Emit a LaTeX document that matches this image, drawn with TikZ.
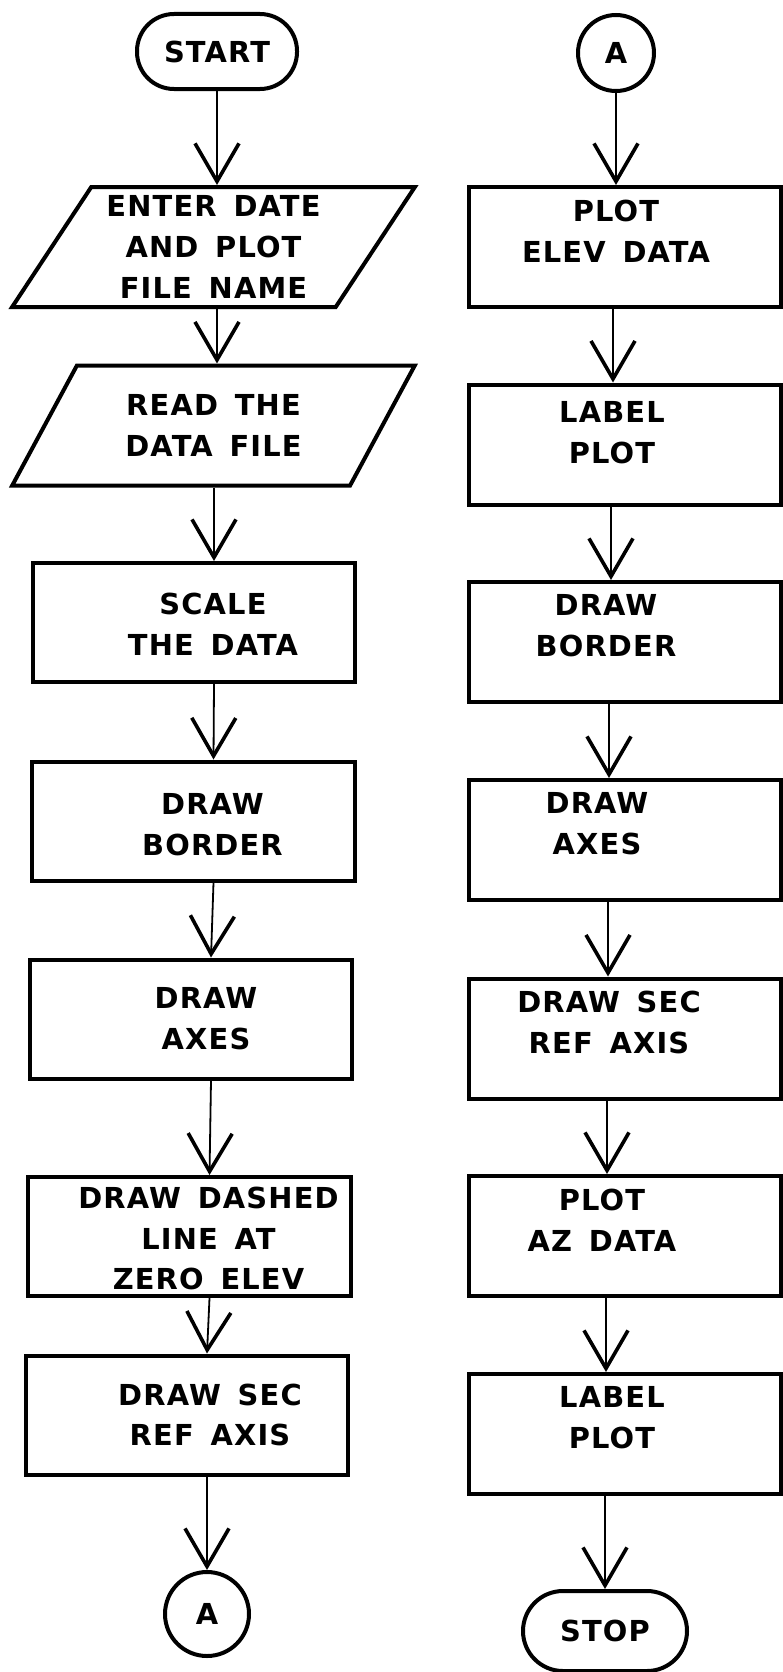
\documentclass[tikz,border=0pt]{standalone}
\usepackage{fontspec}
\usetikzlibrary{shapes.geometric, arrows.meta}
\newfontfamily\plotfont[WordSpace=1.5, LetterSpace=4]{DejaVu Sans}

\begin{document}
\begin{tikzpicture}[
  x=1bp, y=-1bp,
  every node/.style={font=\plotfont\bfseries\fontsize{29}{41}\selectfont},
  term/.style={draw, line width=4bp, rounded corners=37bp, minimum width=160bp, minimum height=75bp, inner sep=0pt},
  conn/.style={draw, circle, line width=4bp, inner sep=0pt},
  io/.style={draw, trapezium, trapezium left angle=56, trapezium right angle=124, trapezium stretches=true,
    line width=4bp, minimum width=403bp, minimum height=120bp, inner sep=0pt, align=center},
  procL/.style={draw, line width=4bp, minimum width=322bp, minimum height=119bp},
  procR/.style={draw, line width=4bp, minimum width=312bp, minimum height=120bp},
  txtL/.style={align=center, xshift=19bp},
  txtR/.style={align=center, xshift=-16bp, yshift=16bp},
  flow/.style={line width=1.8bp, -{Straight Barb[length=38bp, width=44bp, line width=3.6bp]}},
]
  \useasboundingbox (0,0) rectangle (783,1672);

  \node[term] (start) at (217,51.5) {START};
  \node[io] (in1) at (213.5,247) {ENTER DATE\\AND PLOT\\FILE NAME};
  \node[io] (in2) at (213.5,425.5) {READ THE\\DATA FILE};
  \node[procL, label={[txtL, yshift=-2bp]center:SCALE\\THE DATA}] (scale) at (194,622.5) {};
  \node[procL, label={[txtL, yshift=-4bp]center:DRAW\\BORDER}] (border1) at (193.5,821) {};
  \node[procL, label={[txtL, xshift=-4bp]center:DRAW\\AXES}] (axes1) at (191,1019) {};
  \node[procL, label={[txtL, yshift=-2bp]center:DRAW DASHED\\LINE AT\\ZERO ELEV}] (dashed) at (189.5,1236.5) {};
  \node[procL, label={[txtL, xshift=4bp]center:DRAW SEC\\REF AXIS}] (secref1) at (187,1415) {};
  \node[conn, minimum size=84bp] (conA1) at (207,1614) {A};

  \node[conn, minimum size=76bp] (conA2) at (616,53) {A};
  \node[procR, label={[txtR, xshift=7bp]center:PLOT\\ELEV DATA}] (plotelev) at (625,247) {};
  \node[procR, label={[txtR, xshift=3bp, yshift=-4bp]center:LABEL\\PLOT}] (label1) at (625,444.5) {};
  \node[procR, label={[txtR, xshift=-3bp]center:DRAW\\BORDER}] (border2) at (625,642) {};
  \node[procR, label={[txtR, xshift=-12bp]center:DRAW\\AXES}] (axes2) at (625,840) {};
  \node[procR, label={[txtR]center:DRAW SEC\\REF AXIS}] (secref2) at (625,1038.5) {};
  \node[procR, label={[txtR, xshift=-7bp]center:PLOT\\AZ DATA}] (plotaz) at (625,1236) {};
  \node[procR, label={[txtR, xshift=3bp]center:LABEL\\PLOT}] (label2) at (625,1434) {};
  \node[term, minimum width=164bp, minimum height=80bp, rounded corners=40bp] (stop) at (605,1631) {STOP};

  \draw[flow] (start.south) -- (start.south |- in1.north);
  \draw[flow] (in1.south -| start) -- (in2.north -| start);
  \draw[flow] ([xshift=20bp]scale.north |- in2.south) -- ([xshift=20bp]scale.north);
  \draw[flow] ([xshift=20bp]scale.south) -- ([xshift=20bp]border1.north);
  \draw[flow] ([xshift=20bp]border1.south) -- ([xshift=20bp]axes1.north);
  \draw[flow] ([xshift=20bp]axes1.south) -- ([xshift=20bp]dashed.north);
  \draw[flow] ([xshift=20bp]dashed.south) -- ([xshift=20bp]secref1.north);
  \draw[flow] ([xshift=20bp]secref1.south) -- (conA1);

  \draw[flow] (conA2.south) -- (conA2.south |- plotelev.north);
  \draw[flow] ([xshift=-12bp]plotelev.south) -- ([xshift=-12bp]label1.north);
  \draw[flow] ([xshift=-14bp]label1.south) -- ([xshift=-14bp]border2.north);
  \draw[flow] ([xshift=-16bp]border2.south) -- ([xshift=-16bp]axes2.north);
  \draw[flow] ([xshift=-17bp]axes2.south) -- ([xshift=-17bp]secref2.north);
  \draw[flow] ([xshift=-18bp]secref2.south) -- ([xshift=-18bp]plotaz.north);
  \draw[flow] ([xshift=-19bp]plotaz.south) -- ([xshift=-19bp]label2.north);
  \draw[flow] ([xshift=-20bp]label2.south) -- (stop);
\end{tikzpicture}
\end{document}
